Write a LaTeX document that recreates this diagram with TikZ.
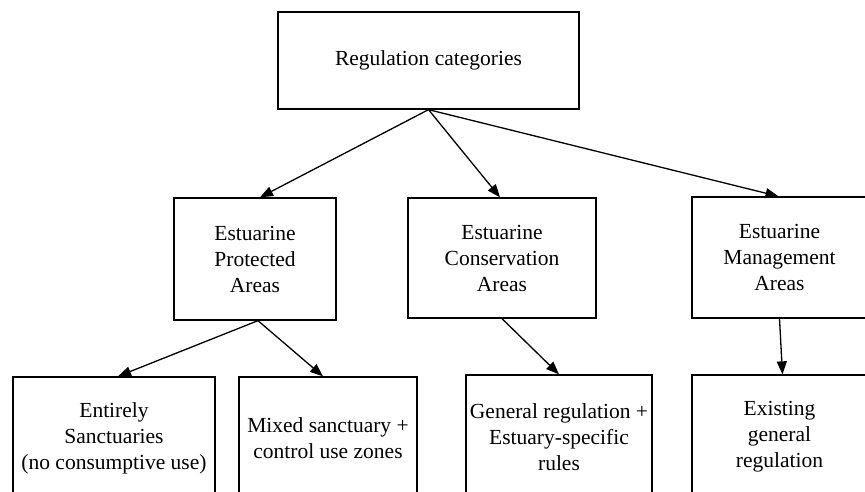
\documentclass[tikz,border=0pt]{standalone}
\usepackage{fontspec}
\setmainfont{Liberation Serif}
\usetikzlibrary{arrows.meta}
\begin{document}
\begin{tikzpicture}[x=1pt,y=-1pt,
  box/.style={draw,line width=1.3pt,rectangle,inner sep=0pt,align=center,
    font=\fontsize{21.5}{26}\selectfont},
  conn/.style={line width=1.3pt,-{Triangle[length=13pt,width=10pt]}}]
\clip (0,0) rectangle (865,492);
\fill[white] (0,0) rectangle (865,492);
% row 1
\node[box,minimum width=301pt,minimum height=97pt] (root) at (428.5,60.5) {Regulation categories};
% row 2
\node[box,minimum width=162pt,minimum height=122pt] (prot) at (255,259) {Estuarine\\Protected\\Areas};
\node[box,minimum width=188pt,minimum height=120pt] (cons) at (502,258) {Estuarine\\Conservation\\Areas};
\node[box,minimum width=175pt,minimum height=121pt] (mgmt) at (779.5,257.5) {Estuarine\\Management\\Areas};
% row 3
\node[box,minimum width=202pt,minimum height=122pt] (ent) at (114,438) {Entirely\\Sanctuaries\\(no consumptive use)};
\node[box,minimum width=178pt,minimum height=122pt] (mix) at (328,438) {Mixed sanctuary +\\control use zones};
\node[box,minimum width=186pt,minimum height=124pt] (gen) at (559,437) {General regulation +\\Estuary-specific\\rules};
\node[box,minimum width=175pt,minimum height=124pt] (exist) at (779.5,437) {Existing\\general\\regulation};
% connectors
\draw[conn] (root.south) -- ([xshift=5pt]prot.north);
\draw[conn] (root.south) -- ([xshift=-2pt]cons.north);
\draw[conn] (root.south) -- ([xshift=-1pt]mgmt.north);
\draw[conn] ([xshift=3pt]prot.south) -- ([xshift=4pt]ent.north);
\draw[conn] ([xshift=3pt]prot.south) -- ([xshift=-5pt]mix.north);
\draw[conn] (cons.south) -- (gen.north);
\draw[conn] (mgmt.south) -- ([xshift=3pt]exist.north);
\end{tikzpicture}
\end{document}
